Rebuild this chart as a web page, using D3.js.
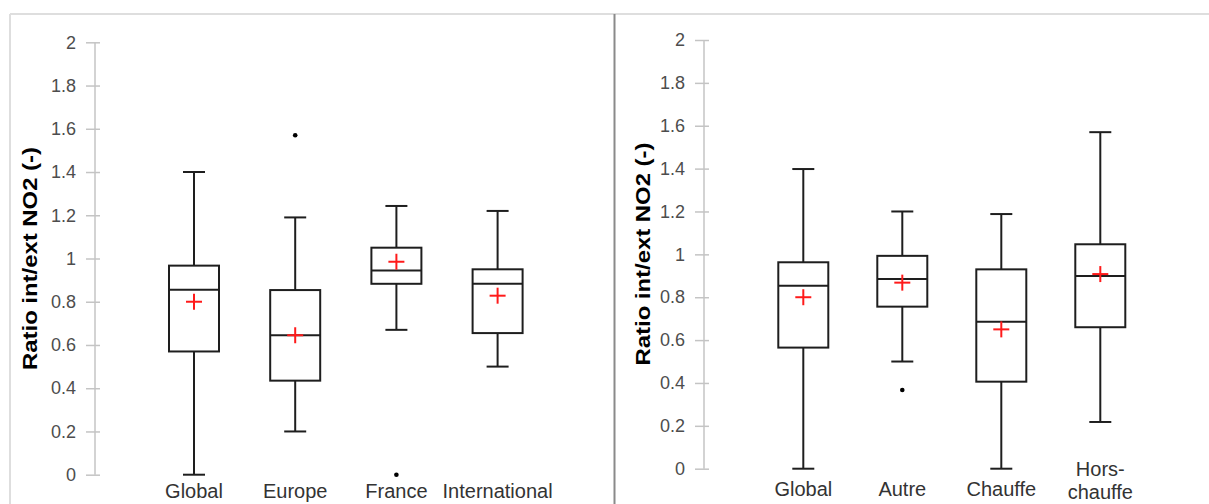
<!DOCTYPE html>
<html>
<head>
<meta charset="utf-8">
<script src="https://cdn.jsdelivr.net/npm/d3@7"></script>
<style>
  html, body { margin: 0; padding: 0; background: #ffffff; }
  svg { display: block; }
</style>
</head>
<body>
<svg id="chart" width="1209" height="504"></svg>
<script>
// ---------- DATA ----------
const yTickValues = [0, 0.2, 0.4, 0.6, 0.8, 1, 1.2, 1.4, 1.6, 1.8, 2];
const yTitle = "Ratio int/ext NO2 (-)";

const leftCategories = ["Global", "Europe", "France", "International"];
const leftMin    = [0.00, 0.20, 0.67, 0.50];
const leftQ1     = [0.57, 0.435, 0.883, 0.655];
const leftMedian = [0.855, 0.645, 0.945, 0.883];
const leftQ3     = [0.967, 0.854, 1.05, 0.95];
const leftMax    = [1.40, 1.19, 1.243, 1.22];
const leftMean   = [0.80, 0.645, 0.985, 0.828];
const leftOutliers = [[], [1.57], [0.0], []];

const rightCategories = ["Global", "Autre", "Chauffe", "Hors-chauffe"];
const rightLabelLines = [["Global"], ["Autre"], ["Chauffe"], ["Hors-", "chauffe"]];
const rightMin    = [0.00, 0.50, 0.00, 0.218];
const rightQ1     = [0.565, 0.756, 0.406, 0.66];
const rightMedian = [0.853, 0.885, 0.686, 0.899];
const rightQ3     = [0.963, 0.993, 0.93, 1.047];
const rightMax    = [1.398, 1.20, 1.188, 1.57];
const rightMean   = [0.80, 0.868, 0.65, 0.908];
const rightOutliers = [[], [0.367], [], []];

// ---------- DRAW ----------
const svg = d3.select("#chart");

// frame
svg.append("line").attr("x1", 10).attr("x2", 1209).attr("y1", 14).attr("y2", 14)
  .attr("stroke", "#dedede").attr("stroke-width", 2);
svg.append("line").attr("x1", 10).attr("x2", 10).attr("y1", 14).attr("y2", 504)
  .attr("stroke", "#dedede").attr("stroke-width", 2);
svg.append("line").attr("x1", 614.5).attr("x2", 614.5).attr("y1", 14).attr("y2", 504)
  .attr("stroke", "#8a8a8a").attr("stroke-width", 2);

function panel(cfg) {
  const y = d3.scaleLinear().domain([0, 2]).range([cfg.y0, cfg.y2]);
  const x = d3.scaleBand().domain(cfg.categories).range(cfg.xRange).padding(0);
  const g = svg.append("g");

  // y axis
  const ax = g.append("g")
    .attr("transform", `translate(${cfg.axisX},0)`)
    .call(d3.axisLeft(y).tickValues(yTickValues).tickSize(9).tickPadding(10)
      .tickFormat(d => String(+d.toFixed(1))));
  ax.select(".domain").attr("stroke", "#c4c4c4").attr("stroke-width", 1.5)
    .attr("d", `M0,${cfg.y0}V${cfg.y2}`);
  ax.selectAll(".tick line").attr("stroke", "#c4c4c4").attr("stroke-width", 1.5).attr("x1", 5);
  ax.selectAll(".tick text").attr("fill", "#4d4d4d")
    .style("font-family", "'Liberation Sans', Arial, sans-serif").style("font-size", "18px");

  // y title
  g.append("text")
    .attr("transform", `translate(${cfg.titleX},${cfg.titleY}) rotate(-90)`)
    .attr("text-anchor", "middle")
    .attr("textLength", 223).attr("lengthAdjust", "spacingAndGlyphs")
    .style("font-family", "'Liberation Sans', Arial, sans-serif")
    .style("font-size", "21px").style("font-weight", "bold").attr("fill", "#000")
    .text(yTitle);

  const bw = 50, cw = 22, mw = 8;
  const stroke = "#1e1e1e";
  cfg.categories.forEach((c, i) => {
    const cx = x(c) + x.bandwidth() / 2;
    const bg = g.append("g");
    // whiskers
    bg.append("line").attr("x1", cx).attr("x2", cx).attr("y1", y(cfg.max[i])).attr("y2", y(cfg.q3[i]))
      .attr("stroke", stroke).attr("stroke-width", 2);
    bg.append("line").attr("x1", cx).attr("x2", cx).attr("y1", y(cfg.q1[i])).attr("y2", y(cfg.min[i]))
      .attr("stroke", stroke).attr("stroke-width", 2);
    [cfg.max[i], cfg.min[i]].forEach(v => {
      bg.append("line").attr("x1", cx - cw / 2).attr("x2", cx + cw / 2).attr("y1", y(v)).attr("y2", y(v))
        .attr("stroke", stroke).attr("stroke-width", 2);
    });
    // box
    bg.append("rect").attr("x", cx - bw / 2).attr("width", bw)
      .attr("y", y(cfg.q3[i])).attr("height", y(cfg.q1[i]) - y(cfg.q3[i]))
      .attr("fill", "none").attr("stroke", stroke).attr("stroke-width", 2);
    // median
    bg.append("line").attr("x1", cx - bw / 2).attr("x2", cx + bw / 2)
      .attr("y1", y(cfg.median[i])).attr("y2", y(cfg.median[i]))
      .attr("stroke", stroke).attr("stroke-width", 2);
    // outliers
    cfg.outliers[i].forEach(v => {
      bg.append("circle").attr("cx", cx).attr("cy", y(v)).attr("r", 2.3).attr("fill", "#000");
    });
    // mean cross
    const my = y(cfg.mean[i]);
    bg.append("line").attr("x1", cx - mw).attr("x2", cx + mw).attr("y1", my).attr("y2", my)
      .attr("stroke", "#ff1a1a").attr("stroke-width", 2);
    bg.append("line").attr("x1", cx).attr("x2", cx).attr("y1", my - mw).attr("y2", my + mw)
      .attr("stroke", "#ff1a1a").attr("stroke-width", 2);

    // category label
    const lines = cfg.labelLines[i];
    const t = g.append("text").attr("text-anchor", "middle")
      .style("font-family", "'Liberation Sans', Arial, sans-serif").style("font-size", "20px")
      .attr("fill", "#333");
    const startY = lines.length > 1 ? cfg.labelY2 : cfg.labelY;
    lines.forEach((ln, k) => {
      t.append("tspan").attr("x", cx).attr("y", startY + k * 23).text(ln);
    });
  });
}

panel({
  categories: leftCategories, labelLines: leftCategories.map(d => [d]),
  min: leftMin, q1: leftQ1, median: leftMedian, q3: leftQ3, max: leftMax, mean: leftMean,
  outliers: leftOutliers,
  y0: 474.7, y2: 42.3, xRange: [143.4, 548.2], axisX: 95,
  titleX: 37, titleY: 258.5, labelY: 498, labelY2: 476
});

panel({
  categories: rightCategories, labelLines: rightLabelLines,
  min: rightMin, q1: rightQ1, median: rightMedian, q3: rightQ3, max: rightMax, mean: rightMean,
  outliers: rightOutliers,
  y0: 468.7, y2: 40, xRange: [753.8, 1149.8], axisX: 704,
  titleX: 650, titleY: 254, labelY: 496, labelY2: 476
});
</script>
</body>
</html>
